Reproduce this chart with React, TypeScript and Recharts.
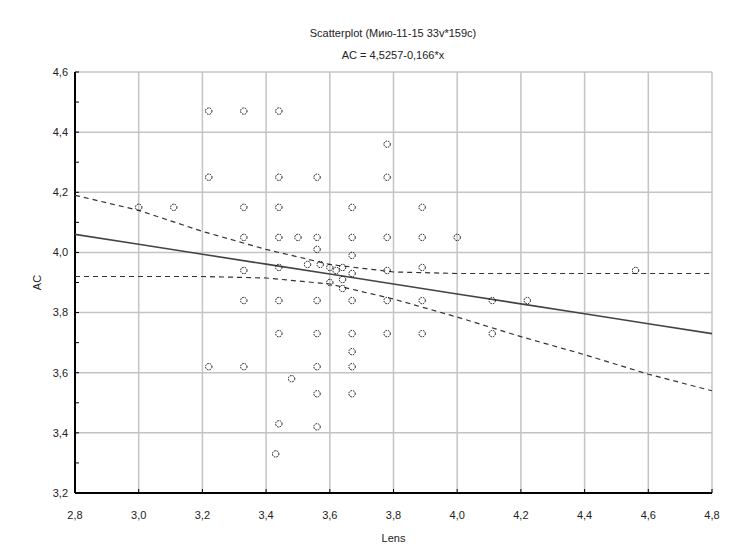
import React from 'react';
import {
  ScatterChart,
  Scatter,
  XAxis,
  YAxis,
  CartesianGrid,
  Label
} from 'recharts';

// observed points (Lens, AC)
const lensValues = [
  3.22, 3.33, 3.44,
  3.78,
  3.22, 3.44, 3.56, 3.78,
  3.0, 3.11, 3.33, 3.44, 3.67, 3.89,
  3.33, 3.44, 3.5, 3.56, 3.67, 3.78, 3.89, 4.0,
  3.56, 3.67, 3.53, 3.57, 3.6, 3.62, 3.64, 3.67, 3.64, 3.6, 3.64,
  3.33, 3.44, 3.78, 3.89, 4.56,
  3.33, 3.44, 3.56, 3.67, 3.78, 3.89, 4.11, 4.22,
  3.44, 3.56, 3.67, 3.78, 3.89, 4.11,
  3.67,
  3.22, 3.33, 3.56, 3.67,
  3.48,
  3.56, 3.67,
  3.44, 3.56, 3.43
];
const acValues = [
  4.47, 4.47, 4.47,
  4.36,
  4.25, 4.25, 4.25, 4.25,
  4.15, 4.15, 4.15, 4.15, 4.15, 4.15,
  4.05, 4.05, 4.05, 4.05, 4.05, 4.05, 4.05, 4.05,
  4.01, 3.99, 3.96, 3.96, 3.95, 3.94, 3.95, 3.93, 3.91, 3.9, 3.88,
  3.94, 3.95, 3.94, 3.95, 3.94,
  3.84, 3.84, 3.84, 3.84, 3.84, 3.84, 3.84, 3.84,
  3.73, 3.73, 3.73, 3.73, 3.73, 3.73,
  3.67,
  3.62, 3.62, 3.62, 3.62,
  3.58,
  3.53, 3.53,
  3.43, 3.42, 3.33
];

// regression line and 95% bands
const fitLens = [2.8, 3.0, 3.2, 3.4, 3.6, 3.8, 4.0, 4.2, 4.4, 4.6, 4.8];
const fitAC = [4.06, 4.027, 3.994, 3.961, 3.928, 3.895, 3.862, 3.829, 3.796, 3.763, 3.73];
const upperAC = [4.19, 4.14, 4.07, 4.01, 3.96, 3.935, 3.93, 3.93, 3.93, 3.93, 3.93];
const lowerAC = [3.92, 3.92, 3.92, 3.915, 3.895, 3.845, 3.785, 3.72, 3.66, 3.595, 3.54];

const xTicks = [2.8, 3.0, 3.2, 3.4, 3.6, 3.8, 4.0, 4.2, 4.4, 4.6, 4.8];
const yTicks = [3.2, 3.3, 3.4, 3.5, 3.6, 3.7, 3.8, 3.9, 4.0, 4.1, 4.2, 4.3, 4.4, 4.5, 4.6];
const yMajor = [3.2, 3.4, 3.6, 3.8, 4.0, 4.2, 4.4, 4.6];

const points = lensValues.map((x, i) => ({ x, y: acValues[i] }));
const fitLine = fitLens.map((x, i) => ({ x, y: fitAC[i] }));
const upperLine = fitLens.map((x, i) => ({ x, y: upperAC[i] }));
const lowerLine = fitLens.map((x, i) => ({ x, y: lowerAC[i] }));

const FONT = '"Liberation Sans", Arial, sans-serif';
const comma = (v: number) => v.toFixed(1).replace('.', ',');
const yFmt = (v: number) => (Math.round(v * 10) % 2 === 0 ? comma(v) : '');

const frame = { stroke: '#000', strokeWidth: 2 };
const tickMark = { stroke: '#000', strokeWidth: 1 };
const tickText = { fill: '#222', fontSize: 11, fontFamily: FONT };

const Marker = (props: any) => (
  <circle cx={props.cx} cy={props.cy} r={3.2} fill="none" stroke="#111" strokeWidth={1} strokeDasharray="1.6 1" />
);
const NoMarker = () => <g />;

export default function App() {
  return (
    <div style={{ position: 'absolute', left: 0, top: 0, width: 730, height: 548, background: '#fff', fontFamily: FONT }}>
      <div style={{ position: 'absolute', left: 0, width: 786, top: 27, textAlign: 'center', fontSize: 11, color: '#222' }}>
        Scatterplot (Мию-11-15 33v*159c)
      </div>
      <div style={{ position: 'absolute', left: 0, width: 786, top: 49, textAlign: 'center', fontSize: 11, color: '#222' }}>
        AC = 4,5257-0,166*x
      </div>
      <ScatterChart width={730} height={548} margin={{ top: 72, right: 18, bottom: 0, left: 30 }}>
        <CartesianGrid stroke="#c4c4c4" strokeWidth={1.5} verticalValues={xTicks} horizontalValues={yMajor} />
        <XAxis
          type="number"
          dataKey="x"
          domain={[2.8, 4.8]}
          ticks={xTicks}
          tickFormatter={comma}
          height={55}
          tickSize={-4}
          tickMargin={22}
          axisLine={frame}
          tickLine={tickMark}
          tick={tickText}
          allowDataOverflow
        >
          <Label value="Lens" position="insideBottom" offset={6} style={tickText} />
        </XAxis>
        <YAxis
          type="number"
          dataKey="y"
          domain={[3.2, 4.6]}
          ticks={yTicks}
          tickFormatter={yFmt}
          width={45}
          tickSize={-4}
          tickMargin={11}
          axisLine={frame}
          tickLine={tickMark}
          tick={tickText}
          allowDataOverflow
          interval={0}
        >
          <Label value="AC" angle={-90} position="insideLeft" offset={7} style={{ ...tickText, textAnchor: 'middle' }} />
        </YAxis>
        <XAxis
          xAxisId="top"
          orientation="top"
          type="number"
          domain={[2.8, 4.8]}
          ticks={xTicks}
          height={0}
          tick={false}
          tickSize={-4}
          axisLine={frame}
          tickLine={tickMark}
          allowDataOverflow
        />
        <YAxis
          yAxisId="right"
          orientation="right"
          type="number"
          domain={[3.2, 4.6]}
          ticks={yTicks}
          width={0}
          tick={false}
          tickSize={-4}
          axisLine={frame}
          tickLine={tickMark}
          interval={0}
          allowDataOverflow
        />
        <Scatter data={upperLine} line={{ stroke: '#333', strokeWidth: 1.2, strokeDasharray: '5 4' }} shape={NoMarker} isAnimationActive={false} />
        <Scatter data={lowerLine} line={{ stroke: '#333', strokeWidth: 1.2, strokeDasharray: '5 4' }} shape={NoMarker} isAnimationActive={false} />
        <Scatter data={fitLine} line={{ stroke: '#444', strokeWidth: 1.6 }} shape={NoMarker} isAnimationActive={false} />
        <Scatter data={points} shape={Marker} isAnimationActive={false} />
      </ScatterChart>
    </div>
  );
}
